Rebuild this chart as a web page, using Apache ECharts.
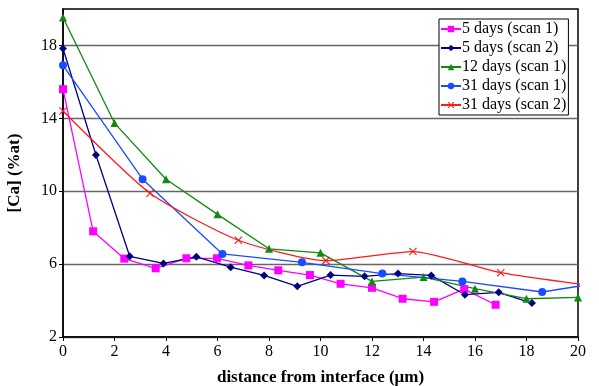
<!DOCTYPE html>
<html><head><meta charset="utf-8">
<script src="https://cdn.jsdelivr.net/npm/echarts@6/dist/echarts.min.js"></script>
<style>html,body{margin:0;padding:0;background:#fff}#c{width:599px;height:386px}</style>
</head><body><div id="c"></div>
<script>
const seriesNames = ['5 days (scan 1)','5 days (scan 2)','12 days (scan 1)','31 days (scan 1)','31 days (scan 2)'];
const d5s1 = [[0,15.6],[1.17,7.8],[2.38,6.3],[3.6,5.77],[4.79,6.32],[5.98,6.32],[7.2,5.93],[8.36,5.66],[9.59,5.4],[10.78,4.92],[12.0,4.7],[13.19,4.1],[14.41,3.93],[15.58,4.63],[16.8,3.77]];
const d5s2 = [[0,17.83],[1.28,11.99],[2.59,6.43],[3.9,6.04],[5.18,6.4],[6.51,5.83],[7.81,5.38],[9.1,4.78],[10.39,5.4],[11.71,5.33],[13.01,5.48],[14.3,5.38],[15.61,4.32],[16.92,4.45],[18.21,3.86]];
const d12s1 = [[0,19.53],[2,13.74],[4,10.66],[6,8.73],[8,6.84],[10,6.62],[12,5.05],[14,5.29],[16,4.65],[18,4.1],[20,4.17]];
const d31s1 = [[0,16.91],[3.09,10.66],[6.19,6.56],[9.28,6.1],[12.4,5.48],[15.51,5.05],[18.61,4.47],[21.7,5.16]];
const d31s2 = [[0,14.4],[3.38,9.89],[6.81,7.31],[10.21,6.19],[13.59,6.69],[17.0,5.53],[20.4,4.84]];
const xTicks = [0,2,4,6,8,10,12,14,16,18,20];
const yTicks = [2,6,10,14,18];

const font = 'Liberation Serif';
const xSym = 'path://M0,1L1,0L5,4L9,0L10,1L6,5L10,9L9,10L5,6L1,10L0,9L4,5Z';
function mk(name, data, color, symbol, size, smooth){
  return {name, type:'line', data, symbol, symbolSize:size, smooth: smooth||false,
    lineStyle:{color, width:1.3}, itemStyle:{color}, clip:true, z: 3};
}
const chart = echarts.init(document.getElementById('c'));
chart.setOption({
  animation:false,
  grid:{left:63, right:21, top:9, bottom:49, outerBoundsMode:'none', containLabel:false, show:true, borderColor:'#000', borderWidth:1.5, backgroundColor:'transparent'},
  legend:{orient:'vertical', left:439, top:19, backgroundColor:'#fff', borderColor:'#000', borderWidth:1,
    padding:[2,2,2,1], itemGap:3, itemWidth:20, itemHeight:8, align:'left',
    textStyle:{fontFamily:font, fontSize:16, color:'#000', padding:[0,0,0,-4]}, data:seriesNames},
  xAxis:{type:'value', min:0, max:20, interval:2,
    axisLine:{lineStyle:{color:'#000', width:1.5}}, axisTick:{show:true, length:4, lineStyle:{color:'#000'}, customValues:xTicks},
    axisLabel:{fontFamily:font, fontSize:16, color:'#000', margin:7, customValues:xTicks},
    splitLine:{show:false},
    name:'distance from interface (\u03bcm)', nameLocation:'middle', nameGap:32,
    nameTextStyle:{fontFamily:font, fontSize:17, fontWeight:'bold', color:'#000'}},
  yAxis:{type:'value', min:2, max:20,
    axisLine:{show:true, lineStyle:{color:'#000', width:1.5}}, axisTick:{show:true, length:4, lineStyle:{color:'#000'}, customValues:yTicks},
    axisLabel:{fontFamily:font, fontSize:16, color:'#000', margin:6, customValues:yTicks},
    splitLine:{show:true, lineStyle:{color:'#666', width:1.3}, customValues:yTicks},
    name:'[Ca] (%at)', nameLocation:'middle', nameGap:40,
    nameTextStyle:{fontFamily:font, fontSize:17, fontWeight:'bold', color:'#000'}},
  series:[
    mk(seriesNames[0], d5s1, '#ff00ff', 'rect', 8),
    mk(seriesNames[1], d5s2, '#000080', 'diamond', 8),
    mk(seriesNames[2], d12s1, '#118811', 'triangle', 8),
    mk(seriesNames[3], d31s1, '#1a4cff', 'circle', 8),
    mk(seriesNames[4], d31s2, '#ff1a1a', xSym, 8, 0.2)
  ]
});
</script></body></html>
